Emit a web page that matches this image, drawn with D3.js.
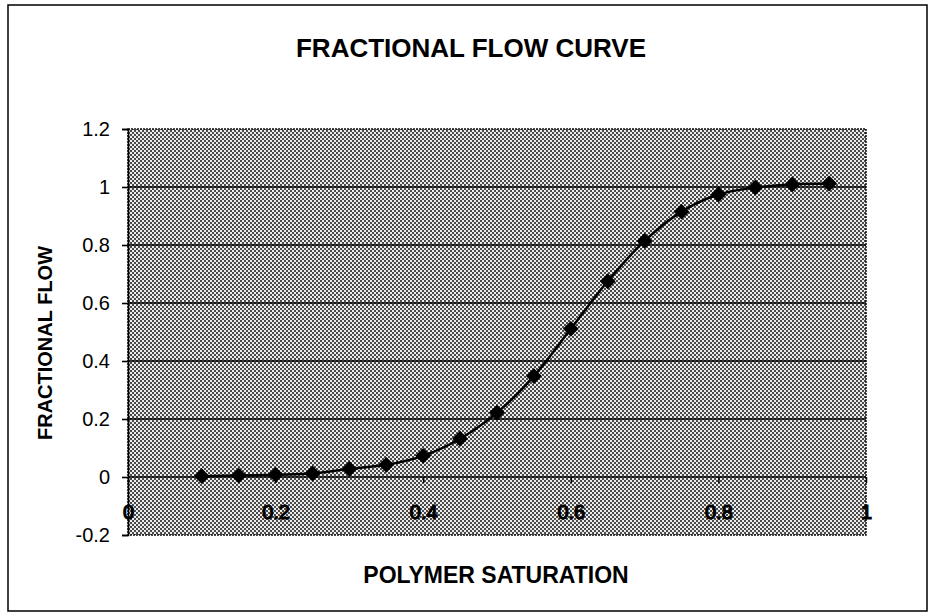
<!DOCTYPE html>
<html>
<head>
<meta charset="utf-8">
<script src="https://cdn.jsdelivr.net/npm/d3@7"></script>
<style>
  body { margin: 0; background: #fff; }
  text { font-family: "Liberation Sans", Arial, sans-serif; fill: #000; }
</style>
</head>
<body>
<svg></svg>
<script>
// data
const saturation = [0.1, 0.15, 0.2, 0.25, 0.3, 0.35, 0.4, 0.45, 0.5, 0.55, 0.6, 0.65, 0.7, 0.75, 0.8, 0.85, 0.9, 0.95];
const fracFlow   = [0.003, 0.005, 0.008, 0.012, 0.028, 0.042, 0.073, 0.132, 0.222, 0.348, 0.511, 0.675, 0.814, 0.915, 0.974, 0.998, 1.009, 1.012];
const yTicks = [-0.2, 0, 0.2, 0.4, 0.6, 0.8, 1, 1.2];
const xTicks = [0, 0.2, 0.4, 0.6, 0.8, 1];

const w = 930;
const h = 616;
const plot = {left: 128, right: 866, top: 129, bottom: 535};

const svg = d3.select("svg")
              .attr("width", w)
              .attr("height", h);

// dithered gray fill like the printed chart
const defs = svg.append("defs");
const pat = defs.append("pattern")
                .attr("id", "dither")
                .attr("patternUnits", "userSpaceOnUse")
                .attr("width", 4)
                .attr("height", 4);
pat.append("rect").attr("width", 4).attr("height", 4).attr("fill", "#ececec");
pat.append("rect").attr("x", 0).attr("y", 0).attr("width", 2).attr("height", 2).attr("fill", "#4a4a4a");
pat.append("rect").attr("x", 2).attr("y", 2).attr("width", 2).attr("height", 2).attr("fill", "#4a4a4a");

// outer frame
svg.append("rect")
   .attr("x", 8).attr("y", 5)
   .attr("width", 919).attr("height", 606)
   .attr("fill", "none")
   .attr("stroke", "#000")
   .attr("stroke-width", 1.5);

const xScale = d3.scaleLinear()
                 .domain([0, 1])
                 .range([plot.left, plot.right]);

const yScale = d3.scaleLinear()
                 .domain([-0.2, 1.2])
                 .range([plot.bottom, plot.top]);

// plot area
svg.append("rect")
   .attr("x", plot.left).attr("y", plot.top)
   .attr("width", plot.right - plot.left)
   .attr("height", plot.bottom - plot.top)
   .attr("fill", "url(#dither)")
   .attr("stroke", "#111")
   .attr("stroke-width", 1.5)
   .style("stroke-dasharray", "2,1");

// horizontal gridlines
svg.append("g")
   .selectAll("line")
   .data(yTicks.filter(d => d > -0.2 && d < 1.2))
   .enter()
   .append("line")
   .attr("x1", plot.left).attr("x2", plot.right)
   .attr("y1", d => yScale(d)).attr("y2", d => yScale(d))
   .attr("stroke", "#000")
   .attr("stroke-width", 1.6);

// y axis
const yAxis = d3.axisLeft(yScale)
                .tickValues(yTicks)
                .tickSize(6)
                .tickPadding(12)
                .tickFormat(d => String(d));
const yg = svg.append("g")
              .attr("transform", "translate(" + plot.left + ",0)")
              .call(yAxis);
yg.select(".domain").attr("stroke", "#000").attr("stroke-width", 1.6);
yg.selectAll(".tick line").attr("stroke", "#000").attr("stroke-width", 1.6);
yg.selectAll(".tick text")
  .attr("font-size", 20)
  .attr("font-family", "Liberation Sans, Arial, sans-serif")
  .attr("fill", "#000");

// x axis sits on the zero line, labels drawn hollow like the scan
const xAxis = d3.axisBottom(xScale)
                .tickValues(xTicks)
                .tickSize(6)
                .tickPadding(22)
                .tickFormat(d => String(d));
const xg = svg.append("g")
              .attr("transform", "translate(0," + yScale(0) + ")")
              .call(xAxis);
xg.select(".domain").remove();
xg.selectAll(".tick line").attr("stroke", "#000").attr("stroke-width", 1.5);
xg.selectAll(".tick text")
  .attr("font-size", 20)
  .attr("font-family", "Liberation Sans, Arial, sans-serif")
  .attr("fill", "#d0d0d0")
  .attr("stroke", "#000")
  .attr("stroke-width", 1.2);

// smoothed curve
const points = saturation.map((s, i) => ({x: s, y: fracFlow[i]}));
const line = d3.line()
               .x(d => xScale(d.x))
               .y(d => yScale(d.y))
               .curve(d3.curveCatmullRom.alpha(0.5));
svg.append("path")
   .datum(points)
   .attr("fill", "none")
   .attr("stroke", "#000")
   .attr("stroke-width", 2.5)
   .attr("stroke-linejoin", "round")
   .attr("d", line);

// diamond markers
svg.append("g")
   .selectAll("path")
   .data(points)
   .enter()
   .append("path")
   .attr("transform", d => "translate(" + xScale(d.x) + "," + yScale(d.y) + ")")
   .attr("d", d3.symbol().type(d3.symbolDiamond2).size(160))
   .attr("fill", "#000");

// titles
svg.append("text")
   .attr("x", 471).attr("y", 57)
   .attr("text-anchor", "middle")
   .attr("font-size", 26)
   .attr("font-weight", "bold")
   .text("FRACTIONAL FLOW CURVE");

svg.append("text")
   .attr("x", 496).attr("y", 583)
   .attr("text-anchor", "middle")
   .attr("font-size", 23)
   .attr("font-weight", "bold")
   .text("POLYMER SATURATION");

svg.append("text")
   .attr("transform", "translate(52," + 343 + ") rotate(-90)")
   .attr("text-anchor", "middle")
   .attr("font-size", 20)
   .attr("font-weight", "bold")
   .text("FRACTIONAL FLOW");
</script>
</body>
</html>
